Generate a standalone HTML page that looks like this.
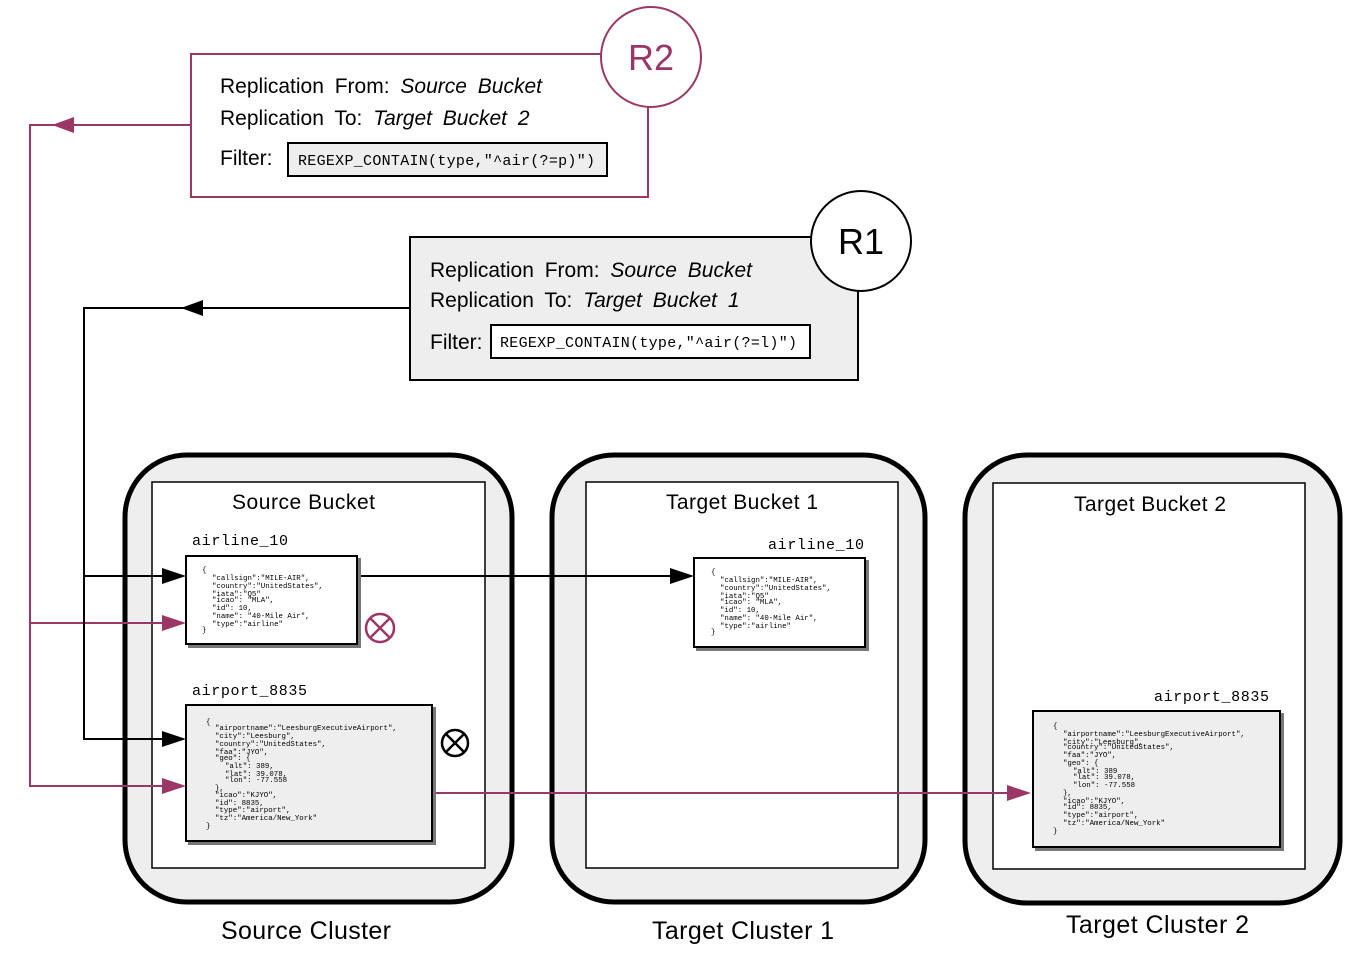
<!DOCTYPE html>
<html><head><meta charset="utf-8"><style>
html,body{margin:0;padding:0;background:#fff;}
svg{display:block;}
.s{font-family:"Liberation Sans",sans-serif;}
.m{font-family:"Liberation Mono",monospace;}
</style></head><body>
<svg width="1370" height="974" viewBox="0 0 1370 974" xmlns="http://www.w3.org/2000/svg">
<defs>
<filter id="sh" x="-10%" y="-10%" width="130%" height="130%"><feOffset dx="3" dy="3" in="SourceAlpha" result="o"/><feFlood flood-color="#777"/><feComposite in2="o" operator="in"/><feMerge><feMergeNode/><feMergeNode in="SourceGraphic"/></feMerge></filter>
</defs>

<rect x="125" y="455" width="387" height="447" rx="62" fill="#eee" stroke="#000" stroke-width="5"/>
<rect x="152" y="482" width="333" height="386" fill="#fff" stroke="#000" stroke-width="1.5"/>
<rect x="552" y="455" width="373" height="447" rx="62" fill="#eee" stroke="#000" stroke-width="5"/>
<rect x="586" y="482" width="312" height="386" fill="#fff" stroke="#000" stroke-width="1.5"/>
<rect x="965" y="455" width="375" height="448" rx="62" fill="#eee" stroke="#000" stroke-width="5"/>
<rect x="993" y="483" width="312" height="386" fill="#fff" stroke="#000" stroke-width="1.5"/>

<text class="s" x="232" y="509" font-size="21" textLength="143">Source Bucket</text>
<text class="s" x="666" y="509" font-size="21" textLength="152">Target Bucket 1</text>
<text class="s" x="1074" y="511" font-size="21" textLength="152">Target Bucket 2</text>
<text class="s" x="221" y="939" font-size="25" textLength="170">Source Cluster</text>
<text class="s" x="652" y="939" font-size="25" textLength="182">Target Cluster 1</text>
<text class="s" x="1066" y="933" font-size="25" textLength="183">Target Cluster 2</text>

<rect x="191" y="54" width="457" height="143" fill="#fff" stroke="#9b3766" stroke-width="2"/>
<circle cx="651" cy="57" r="50" fill="#fff" stroke="#9b3766" stroke-width="2"/>
<text class="s" x="651" y="70" font-size="36" fill="#9b3766" text-anchor="middle">R2</text>
<text class="s" x="220" y="93" font-size="21" word-spacing="5">Replication From: <tspan font-style="italic">Source Bucket</tspan></text>
<text class="s" x="220" y="125" font-size="21" word-spacing="5">Replication To: <tspan font-style="italic">Target Bucket 2</tspan></text>
<text class="s" x="220" y="165" font-size="21">Filter:</text>
<rect x="288" y="143" width="319" height="33" fill="#eee" stroke="#000" stroke-width="2"/>
<text class="m" x="298" y="165" font-size="15" textLength="297">REGEXP_CONTAIN(type,"^air(?=p)")</text>

<rect x="410" y="237" width="448" height="143" fill="#eee" stroke="#000" stroke-width="2"/>
<circle cx="861" cy="241" r="50" fill="#fff" stroke="#000" stroke-width="2"/>
<text class="s" x="861" y="254" font-size="36" text-anchor="middle">R1</text>
<text class="s" x="430" y="277" font-size="21" word-spacing="5">Replication From: <tspan font-style="italic">Source Bucket</tspan></text>
<text class="s" x="430" y="307" font-size="21" word-spacing="5">Replication To: <tspan font-style="italic">Target Bucket 1</tspan></text>
<text class="s" x="430" y="349" font-size="21">Filter:</text>
<rect x="491" y="325" width="319" height="33" fill="#fff" stroke="#000" stroke-width="2"/>
<text class="m" x="500" y="347" font-size="15" textLength="297">REGEXP_CONTAIN(type,"^air(?=l)")</text>

<g stroke="#9b3766" stroke-width="2" fill="none">
<polyline points="191,125 30,125 30,786 165,786"/>
<line x1="30" y1="623" x2="165" y2="623"/>
<line x1="432" y1="793" x2="1010" y2="793"/>
</g>
<g fill="#9b3766">
<polygon points="52,125 74,117 74,133"/>
<polygon points="186,623 162,615 162,631"/>
<polygon points="186,786 162,778 162,794"/>
<polygon points="1031,793 1007,785 1007,801"/>
</g>

<g stroke="#000" stroke-width="2" fill="none">
<polyline points="410,308 84,308 84,739 165,739"/>
<line x1="84" y1="576" x2="165" y2="576"/>
<line x1="357" y1="576" x2="672" y2="576"/>
</g>
<g fill="#000">
<polygon points="181,308 203,300 203,316"/>
<polygon points="186,576 162,568 162,584"/>
<polygon points="186,739 162,731 162,747"/>
<polygon points="694,576 670,568 670,584"/>
</g>

<text class="m" x="192" y="545" font-size="15" textLength="96">airline_10</text>
<rect x="186" y="556" width="171" height="88" fill="#fff" stroke="#000" stroke-width="2" filter="url(#sh)"/>
<g class="m" font-size="7.4">
<text x="202" y="572">{</text>
<text x="212" y="580">"callsign":"MILE-AIR",</text>
<text x="212" y="588">"country":"UnitedStates",</text>
<text x="212" y="596">"iata":"Q5"</text>
<text x="212" y="602">"icao": "MLA",</text>
<text x="212" y="610">"id": 10,</text>
<text x="212" y="618">"name": "40-Mile Air",</text>
<text x="212" y="626">"type":"airline"</text>
<text x="202" y="632">}</text>
</g>

<text class="m" x="192" y="695" font-size="15" textLength="115">airport_8835</text>
<rect x="186" y="705" width="246" height="136" fill="#eee" stroke="#000" stroke-width="2" filter="url(#sh)"/>
<g class="m" font-size="7.4">
<text x="206" y="724">{</text>
<text x="215" y="730">"airportname":"LeesburgExecutiveAirport",</text>
<text x="215" y="738">"city":"Leesburg",</text>
<text x="215" y="746">"country":"UnitedStates",</text>
<text x="215" y="754">"faa":"JYO",</text>
<text x="215" y="760">"geo": {</text>
<text x="225" y="768">"alt": 389,</text>
<text x="225" y="776">"lat": 39.078,</text>
<text x="225" y="782">"lon": -77.558</text>
<text x="215" y="790">},</text>
<text x="215" y="797">"icao":"KJYO",</text>
<text x="215" y="805">"id": 8835,</text>
<text x="215" y="812">"type":"airport",</text>
<text x="215" y="820">"tz":"America/New_York"</text>
<text x="206" y="828">}</text>
</g>

<text class="m" x="768" y="549" font-size="15" textLength="96">airline_10</text>
<rect x="694" y="558" width="171" height="89" fill="#fff" stroke="#000" stroke-width="2" filter="url(#sh)"/>
<g class="m" font-size="7.4">
<text x="711" y="574">{</text>
<text x="720" y="582">"callsign":"MILE-AIR",</text>
<text x="720" y="590">"country":"UnitedStates",</text>
<text x="720" y="598">"iata":"Q5"</text>
<text x="720" y="604">"icao": "MLA",</text>
<text x="720" y="612">"id": 10,</text>
<text x="720" y="620">"name": "40-Mile Air",</text>
<text x="720" y="628">"type":"airline"</text>
<text x="711" y="634">}</text>
</g>

<text class="m" x="1154" y="701" font-size="15" textLength="115">airport_8835</text>
<rect x="1033" y="711" width="247" height="136" fill="#eee" stroke="#000" stroke-width="2" filter="url(#sh)"/>
<g class="m" font-size="7.4">
<text x="1053" y="728">{</text>
<text x="1063" y="736">"airportname":"LeesburgExecutiveAirport",</text>
<text x="1063" y="744">"city":"Leesburg",</text>
<text x="1063" y="749">"country":"UnitedStates",</text>
<text x="1063" y="757">"faa":"JYO",</text>
<text x="1063" y="765">"geo": {</text>
<text x="1073" y="773">"alt": 389</text>
<text x="1073" y="779">"lat": 39.078,</text>
<text x="1073" y="787">"lon": -77.558</text>
<text x="1063" y="795">},</text>
<text x="1063" y="803">"icao":"KJYO",</text>
<text x="1063" y="809">"id": 8835,</text>
<text x="1063" y="817">"type":"airport",</text>
<text x="1063" y="825">"tz":"America/New_York"</text>
<text x="1053" y="833">}</text>
</g>

<g stroke="#9b3766" stroke-width="2.5" fill="none">
<circle cx="380" cy="628" r="14"/>
<line x1="370" y1="618" x2="390" y2="638"/><line x1="390" y1="618" x2="370" y2="638"/>
</g>
<g stroke="#000" stroke-width="2.5" fill="none">
<circle cx="455" cy="743" r="13"/>
<line x1="446" y1="734" x2="464" y2="752"/><line x1="464" y1="734" x2="446" y2="752"/>
</g>
</svg>
</body></html>
